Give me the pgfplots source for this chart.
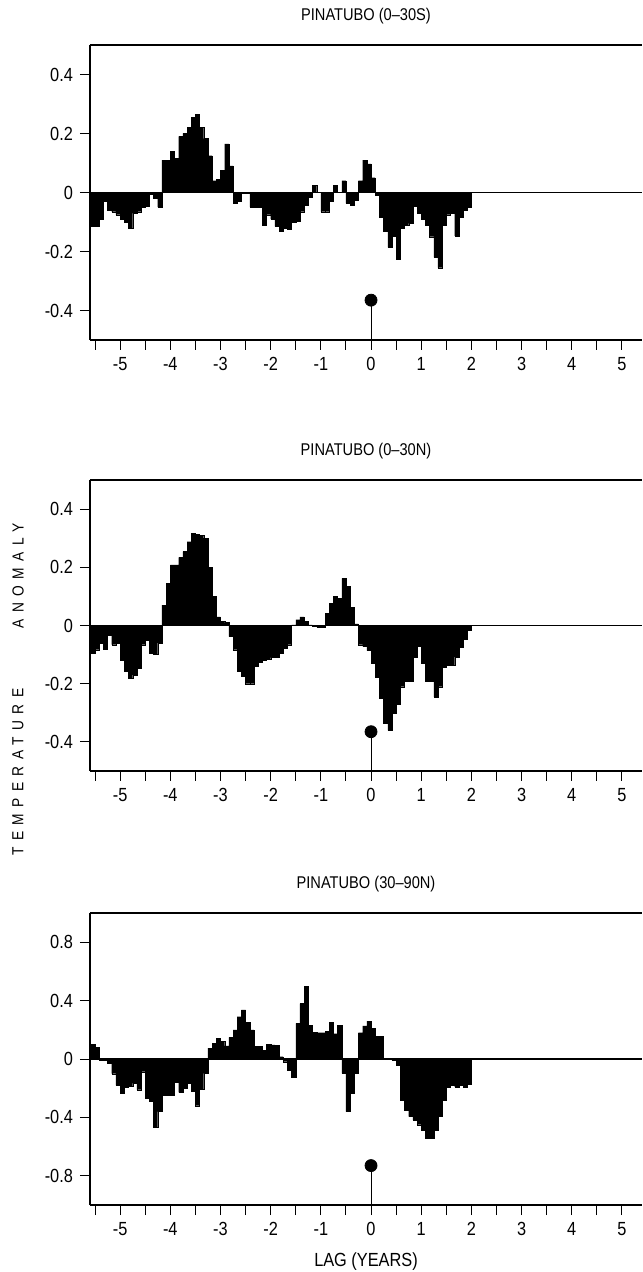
\documentclass[border=0pt]{standalone}
\usepackage{fontspec}
\setmainfont{Liberation Sans}[FakeStretch=0.86]
\usepackage{pgfplots}
\pgfplotsset{compat=1.18}
\usepackage{pgfplotstable}

% monthly anomalies, lag from -5.58 to 2.0 years (one row per month, last row closes the interval)
\pgfplotstableread{
v
-0.115
-0.115
-0.09
-0.03
-0.06
-0.065
-0.075
-0.09
-0.10
-0.12
-0.07
-0.065
-0.05
-0.045
-0.005
-0.02
-0.05
0.11
0.11
0.14
0.115
0.19
0.20
0.22
0.255
0.265
0.22
0.183
0.125
0.04
0.045
0.075
0.165
0.09
-0.037
-0.03
-0.003
-0.003
-0.05
-0.05
-0.05
-0.11
-0.075
-0.09
-0.115
-0.13
-0.12
-0.125
-0.10
-0.098
-0.065
-0.043
-0.015
0.025
0.0
-0.065
-0.065
-0.03
0.025
0.0
0.04
-0.037
-0.042
-0.025
0.04
0.11
0.097
0.05
-0.01
-0.085
-0.13
-0.186
-0.147
-0.225
-0.12
-0.11
-0.105
-0.045
-0.07
-0.09
-0.11
-0.15
-0.22
-0.255
-0.11
-0.075
-0.07
-0.147
-0.085
-0.06
-0.05
0
}\southtab

\pgfplotstableread{
v
-0.095
-0.083
-0.06
-0.08
-0.032
-0.066
-0.06
-0.118
-0.158
-0.18
-0.17
-0.146
-0.066
-0.05
-0.095
-0.1
-0.06
0.07
0.145
0.208
0.208
0.234
0.254
0.288
0.317
0.314
0.31
0.3
0.2
0.1
0.03
0.014
0.01
-0.038
-0.083
-0.158
-0.173
-0.2
-0.2
-0.14
-0.127
-0.12
-0.115
-0.11
-0.11
-0.095
-0.078
-0.066
0.002
0.02
0.03
0.014
0.002
-0.003
-0.006
-0.006
0.042
0.077
0.1
0.094
0.162
0.134
0.063
0.006
-0.066
-0.072
-0.086
-0.13
-0.177
-0.25
-0.337
-0.36
-0.3
-0.27
-0.21
-0.19
-0.19
-0.108
-0.07
-0.13
-0.19
-0.19
-0.245
-0.21
-0.143
-0.137
-0.137
-0.108
-0.074
-0.046
-0.015
0
}\northtab

\pgfplotstableread{
v
0.1
0.08
-0.007
-0.007
-0.03
-0.1
-0.18
-0.235
-0.19
-0.185
-0.166
-0.21
-0.087
-0.27
-0.29
-0.467
-0.36
-0.246
-0.246
-0.246
-0.16
-0.228
-0.2
-0.166
-0.223
-0.32
-0.207
-0.098
0.074
0.109
0.14
0.12
0.09
0.148
0.2
0.29
0.336
0.25
0.2
0.086
0.086
0.058
0.1
0.097
0.093
0.016
-0.018
-0.075
-0.125
0.244
0.38
0.5
0.23
0.183
0.18
0.18
0.19
0.253
0.174
0.23
-0.098
-0.36
-0.235
-0.098
0.18
0.227
0.26
0.21
0.155
0.155
0.0
0.0
-0.01
-0.04
-0.28
-0.35
-0.394
-0.417
-0.45
-0.485
-0.54
-0.54
-0.485
-0.394
-0.28
-0.19
-0.178
-0.19
-0.178
-0.19
-0.17
0
}\hightab

\pgfplotsset{
  panel/.style={
    scale only axis, width=276pt,
    anchor=north west,
    xmin=-5.6, xmax=5.4,
    axis x line*=box, axis y line*=left,
    axis line style={line width=0.8pt},
    xtick={-5,...,5},
    minor xtick={-5.5,-4.5,...,4.5},
    xtick pos=bottom, ytick pos=left,
    tick align=outside,
    major tick length=5pt, minor tick length=5pt,
    tick style={black, line width=0.5pt},
    /pgf/number format/assume math mode=true,
    tick label style={font=\fontsize{9.5}{10}\selectfont},
    title style={font=\fontsize{8.5}{10}\selectfont, at={(0.5,1)}, anchor=center, yshift=8.5pt},
    clip=true,
  },
  bars/.style={ybar interval, fill=black, draw=black, line width=0.1pt},
}

\begin{document}
\begin{tikzpicture}

\begin{axis}[panel, at={(0pt,-22.5pt)}, height=147.5pt,
  ymin=-0.5, ymax=0.5, ytick={-0.4,-0.2,0,0.2,0.4},
  title={PINATUBO (0--30S)}]
\addplot[bars] table[x expr={\coordindex/12-5.58333}, y=v] {\southtab};
\addplot[black, line width=0.6pt] coordinates {(-5.6,0) (5.4,0)};
\addplot[black, line width=0.4pt] coordinates {(0,-0.5) (0,-0.365)};
\addplot[only marks, mark=*, mark size=3pt, black] coordinates {(0,-0.365)};
\end{axis}

\begin{axis}[panel, at={(0pt,-240pt)}, height=145.5pt,
  ymin=-0.5, ymax=0.5, ytick={-0.4,-0.2,0,0.2,0.4},
  title={PINATUBO (0--30N)}]
\addplot[bars] table[x expr={\coordindex/12-5.58333}, y=v] {\northtab};
\addplot[black, line width=0.6pt] coordinates {(-5.6,0) (5.4,0)};
\addplot[black, line width=0.4pt] coordinates {(0,-0.5) (0,-0.365)};
\addplot[only marks, mark=*, mark size=3pt, black] coordinates {(0,-0.365)};
\end{axis}

\begin{axis}[panel, at={(0pt,-456.5pt)}, height=146pt,
  ymin=-1, ymax=1, ytick={-0.8,-0.4,0,0.4,0.8},
  title={PINATUBO (30--90N)},
  xlabel={LAG (YEARS)},
  xlabel style={font=\fontsize{9.5}{11}\selectfont, at={(axis description cs:0.5,0)}, anchor=center, yshift=-28.5pt}]
\addplot[bars] table[x expr={\coordindex/12-5.58333}, y=v] {\hightab};
\addplot[black, line width=0.6pt] coordinates {(-5.6,0) (5.4,0)};
\addplot[black, line width=0.4pt] coordinates {(0,-1) (0,-0.73)};
\addplot[only marks, mark=*, mark size=3pt, black] coordinates {(0,-0.73)};
\end{axis}

\node[rotate=90, font=\fontsize{8}{9}\selectfont\addfontfeatures{LetterSpace=40}] at (-36pt,-288pt) {ANOMALY};
\node[rotate=90, font=\fontsize{8}{9}\selectfont\addfontfeatures{LetterSpace=40}] at (-36pt,-386pt) {TEMPERATURE};

\pgfresetboundingbox
\path[use as bounding box] (-45pt,0pt) rectangle (276pt,-636pt);
\end{tikzpicture}
\end{document}
